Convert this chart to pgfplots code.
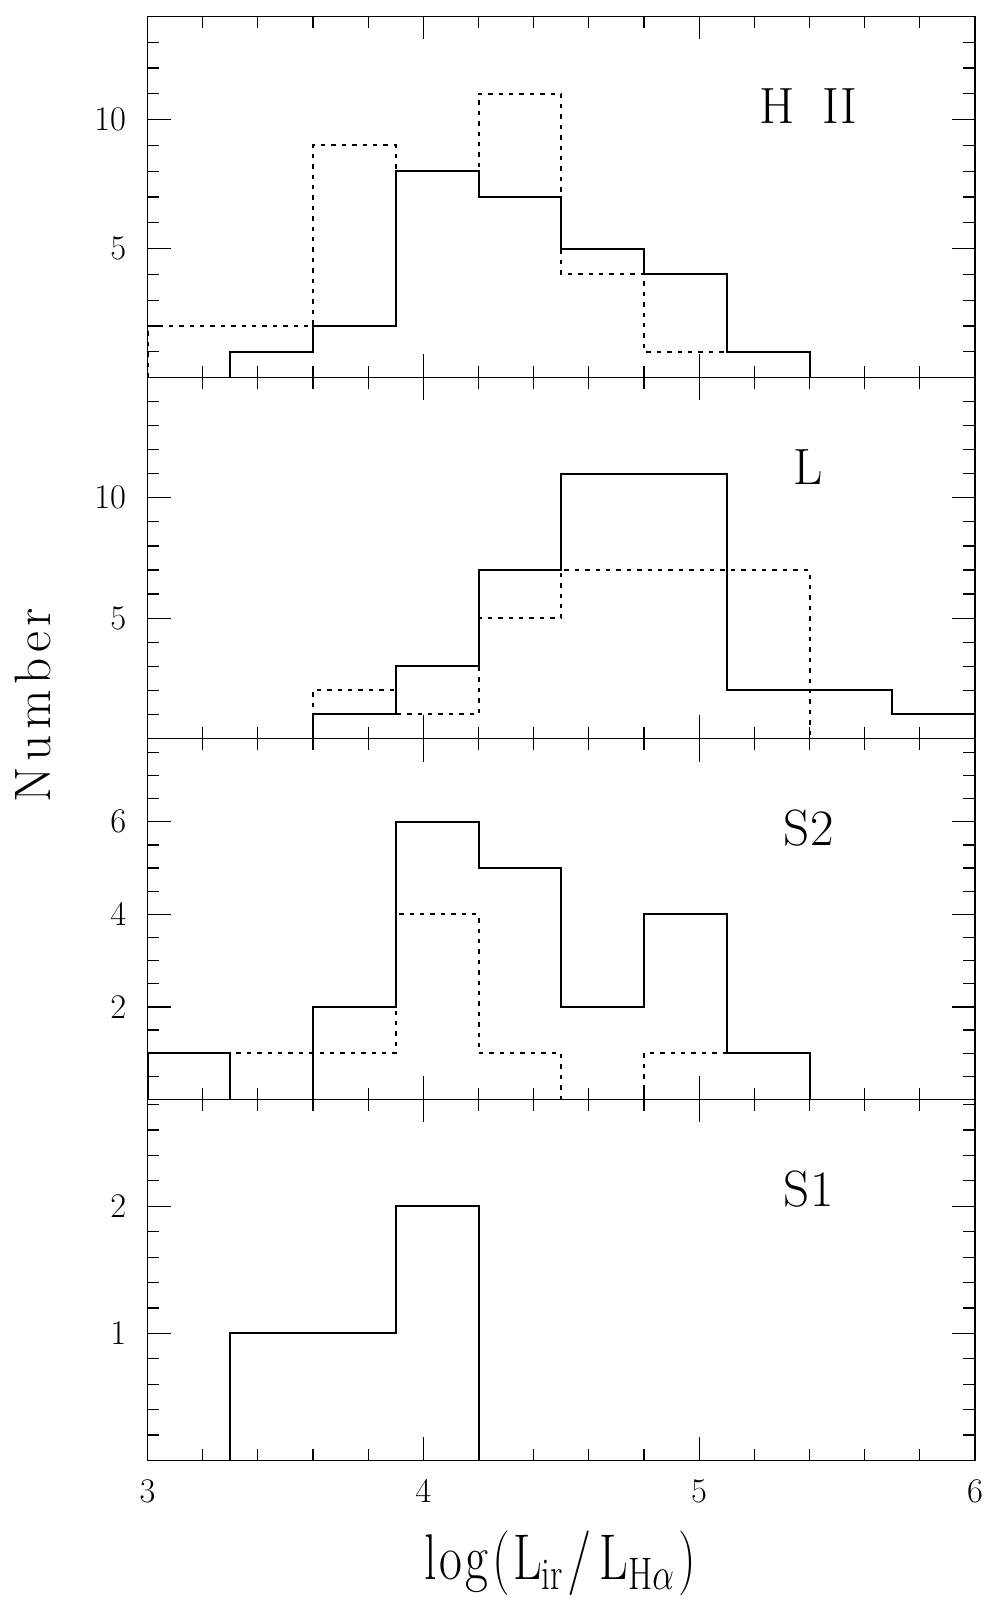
\documentclass[border=0pt]{standalone}
\usepackage{pgfplots}
\pgfplotsset{compat=1.18}
\tikzset{plabel/.style={anchor=base, font=\fontsize{25.5}{30}\selectfont}}
\newcommand{\kk}{\kern1.6pt}
\newcommand{\nk}{\kern2.8pt}
\begin{document}
\begin{tikzpicture}
\path[use as bounding box] (0pt,0pt) rectangle (497.5pt,800pt);
\pgfplotsset{
  panel/.style={
    width=413.75pt, height=180.5pt, scale only axis,
    anchor=south west,
    xmin=3, xmax=6, ymin=0,
    xtick={3,4,5,6},
    minor xtick={3.2,3.4,3.6,3.8,4.2,4.4,4.6,4.8,5.2,5.4,5.6,5.8},
    tick align=inside, xtick pos=both, ytick pos=both,
    major tick length=11.5pt, minor tick length=5.8pt,
    every tick/.style={black, line width=0.6pt},
    axis line style={line width=0.65pt},
    tick label style={font=\fontsize{18}{20}\selectfont},
    yticklabel style={inner sep=0pt, xshift=-10.5pt},
    xticklabel style={inner sep=0pt, yshift=-9.5pt},
  },
  solidhist/.style={const plot, line width=1pt, black, no marks},
  dothist/.style={const plot, line width=1pt, black, dash pattern=on 2.2pt off 3pt, no marks},
}
% ---------- H II ----------
\begin{axis}[panel, at={(73.75pt,611.25pt)}, ymax=14,
  ytick={5,10}, minor ytick={1,2,3,4,6,7,8,9,11,12,13}, xticklabels={}]
\addplot[dothist] coordinates {(3.0,0)(3.0,2)(3.6,9)(3.9,8)(4.2,11)(4.5,4)(4.8,1)(5.4,0)};
\addplot[solidhist] coordinates {(3.3,0)(3.3,1)(3.6,2)(3.9,8)(4.2,7)(4.5,5)(4.8,4)(5.1,1)(5.4,0)};
\node[plabel] at (rel axis cs:0.799,0.704) {H\hspace{0.55em}II};
\end{axis}
% ---------- L ----------
\begin{axis}[panel, at={(73.75pt,430.75pt)}, ymax=15,
  ytick={5,10}, minor ytick={1,2,3,4,6,7,8,9,11,12,13,14}, xticklabels={}]
\addplot[dothist] coordinates {(3.6,0)(3.6,2)(3.9,1)(4.2,5)(4.5,7)(5.4,0)};
\addplot[solidhist] coordinates {(3.6,0)(3.6,1)(3.9,3)(4.2,7)(4.5,11)(5.1,2)(5.7,1)(6.0,0)};
\node[plabel] at (rel axis cs:0.799,0.704) {L};
\end{axis}
% ---------- S2 ----------
\begin{axis}[panel, at={(73.75pt,250.25pt)}, ymax=7.8,
  ytick={2,4,6}, minor ytick={0.5,1,1.5,2.5,3,3.5,4.5,5,5.5,6.5,7,7.5}, xticklabels={}]
\addplot[dothist] coordinates {(3.0,0)(3.0,1)(3.9,4)(4.2,1)(4.5,0)};
\addplot[dothist] coordinates {(4.8,0)(4.8,1)(5.4,0)};
\addplot[solidhist] coordinates {(3.0,0)(3.0,1)(3.3,0)};
\addplot[solidhist] coordinates {(3.6,0)(3.6,2)(3.9,6)(4.2,5)(4.5,2)(4.8,4)(5.1,1)(5.4,0)};
\node[plabel] at (rel axis cs:0.799,0.704) {S2};
\end{axis}
% ---------- S1 ----------
\begin{axis}[panel, at={(73.75pt,69.75pt)}, ymax=2.84,
  ytick={1,2}, minor ytick={0.2,0.4,0.6,0.8,1.2,1.4,1.6,1.8,2.2,2.4,2.6,2.8}]
\addplot[solidhist] coordinates {(3.3,0)(3.3,1)(3.9,2)(4.2,0)};
\node[plabel] at (rel axis cs:0.799,0.704) {S1};
\end{axis}
% axis titles
\node[anchor=base, inner sep=0pt, font=\fontsize{23.5}{28}\selectfont] at (280pt,10pt)
  {\scalebox{1}[1.3]{$\mathrm{l}\kk\mathrm{o}\kk\mathrm{g}\kk(\kk\mathrm{L}_{\mbox{\fontsize{17.5}{20}\selectfont ir}}\kk/\kern4pt\mathrm{L}_{\mbox{\fontsize{17.5}{20}\selectfont H$\alpha$}}\kk)$}};
\node[anchor=base, rotate=90, inner sep=0pt, font=\fontsize{25.6}{30}\selectfont] at (25pt,447.5pt)
  {N\nk u\nk m\nk b\nk e\nk r};
\end{tikzpicture}
\end{document}
